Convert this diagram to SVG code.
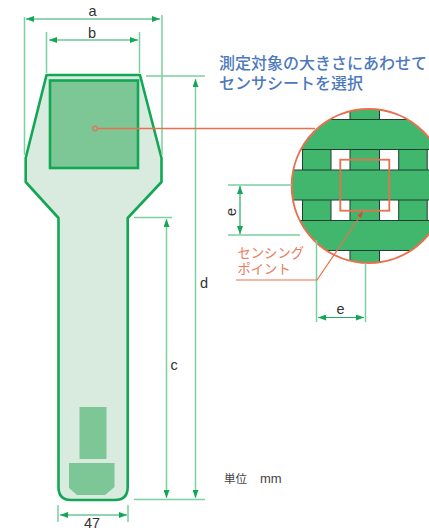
<svg xmlns="http://www.w3.org/2000/svg" width="429" height="530" viewBox="0 0 429 530">
<style>
text{font-family:"Liberation Sans","Noto Sans CJK JP",sans-serif}
.dim{stroke:#7dd09f;stroke-width:1.500;fill:none}
.dl{stroke:#23ac62;stroke-width:1.200;fill:none}
.lab{font-size:14.500px;fill:#333;text-anchor:middle}
.or{stroke:#e9704f;fill:none}
.weave{fill:#41b76e;stroke:#1f3f30;stroke-width:1}
.edge{stroke:#1f3f30;stroke-width:1;fill:none}
.soft{fill:#7cc795}
</style>
<defs>
<marker id="ah" viewBox="0 0 8 6" refX="8" refY="3" markerWidth="8" markerHeight="6" orient="auto-start-reverse" markerUnits="userSpaceOnUse"><path d="M0 0L8 3L0 6z" fill="#12a755"/></marker>
<clipPath id="lens"><circle cx="368.700" cy="186" r="77"/></clipPath>
</defs>
<g id="sensor-sheet">
<path d="M46.500 75L140 75L161.500 158V182L127.700 218V487Q127.700 500 115 500H71Q58.500 500 58.500 487V218L25.700 182V158Z" fill="#d9ebdf" stroke="#12a755" stroke-width="2.600" stroke-linejoin="round"/>
<rect x="50" y="80.500" width="88" height="87.500" fill="#7cc795" stroke="#12a755" stroke-width="2.600"/>
<rect class="soft" x="79.500" y="407" width="27" height="52"/>
<path class="soft" d="M69 463H114.500V487L105 495H77L69 488Z"/>
</g>
<g id="magnified-weave" clip-path="url(#lens)">
<rect x="285" y="105" width="150" height="165" fill="#fff"/>
<rect class="weave" x="350" y="100" width="29.500" height="170"/>
<rect class="weave" x="302.500" y="140" width="28.500" height="90"/>
<rect class="weave" x="398.700" y="140" width="28.500" height="90"/>
<rect x="280" y="119.500" width="160" height="30" fill="#41b76e"/>
<rect x="280" y="170" width="160" height="30" fill="#41b76e"/>
<rect x="280" y="220.500" width="160" height="30" fill="#41b76e"/>
<path class="edge" d="M280 119.500H440M280 149.500H440M280 170H440M280 200H440M280 220.500H440M280 250.500H440"/>
</g>
<g id="lens-outline">
<circle class="or" cx="368.700" cy="186" r="77" stroke-width="2"/>
<rect class="or" x="340.300" y="159.700" width="49" height="51" stroke-width="1.800"/>
</g>
<g id="connectors">
<path class="dim" d="M24.500 17V155M162 15V155M46.500 32V73M139.500 32V73M146 76H205M134 217.500H172M134 499.500H205M58 505V522M128 505V522M228 185H292M228 235H300M316.500 240V322M365.500 263V322"/>
<path class="dl" marker-start="url(#ah)" marker-end="url(#ah)" d="M26 19H160"/>
<path class="dl" marker-start="url(#ah)" marker-end="url(#ah)" d="M49 40H138"/>
<path class="dl" marker-start="url(#ah)" marker-end="url(#ah)" d="M60 515H127"/>
<path class="dl" marker-start="url(#ah)" marker-end="url(#ah)" d="M240 186V234"/>
<path class="dl" marker-start="url(#ah)" marker-end="url(#ah)" d="M318 317.500H364"/>
<path class="dim" marker-start="url(#ah)" marker-end="url(#ah)" d="M195.500 79V498"/>
<path class="dim" marker-start="url(#ah)" marker-end="url(#ah)" d="M166.500 219V498"/>
<path class="or" stroke-width="1.500" d="M95 128.500H315"/>
<circle cx="95" cy="128.500" r="2.300" fill="#7cc795" stroke="#e9704f" stroke-width="1.200"/>
<path class="or" stroke-width="1.200" d="M236 280H317L363 212"/>
<path d="M363 211L361 218L357.500 215.500Z" fill="#d9463a"/>
</g>
<g id="labels">
<text class="lab" x="92.500" y="16">a</text>
<text class="lab" x="92" y="38">b</text>
<text class="lab" x="174" y="370">c</text>
<text class="lab" x="204" y="288">d</text>
<text class="lab" x="232" y="212" transform="rotate(-90 232 212)" dy="4">e</text>
<text class="lab" x="340.500" y="314">e</text>
<text class="lab" x="92" y="527.500">47</text>
<text x="219" y="68.500" font-size="16" font-weight="500" fill="#4b79bd">測定対象の大きさにあわせて</text>
<text x="219" y="88.500" font-size="16" font-weight="500" fill="#4b79bd">センサシートを選択</text>
<text x="237.500" y="258" font-size="13.300" fill="#ec7a5c">センシング</text>
<text x="237.500" y="274" font-size="13.300" fill="#ec7a5c">ポイント</text>
<text x="224" y="483" font-size="11.500" fill="#444">単位</text>
<text x="260" y="483" font-size="13" fill="#444">mm</text>
</g>
</svg>
